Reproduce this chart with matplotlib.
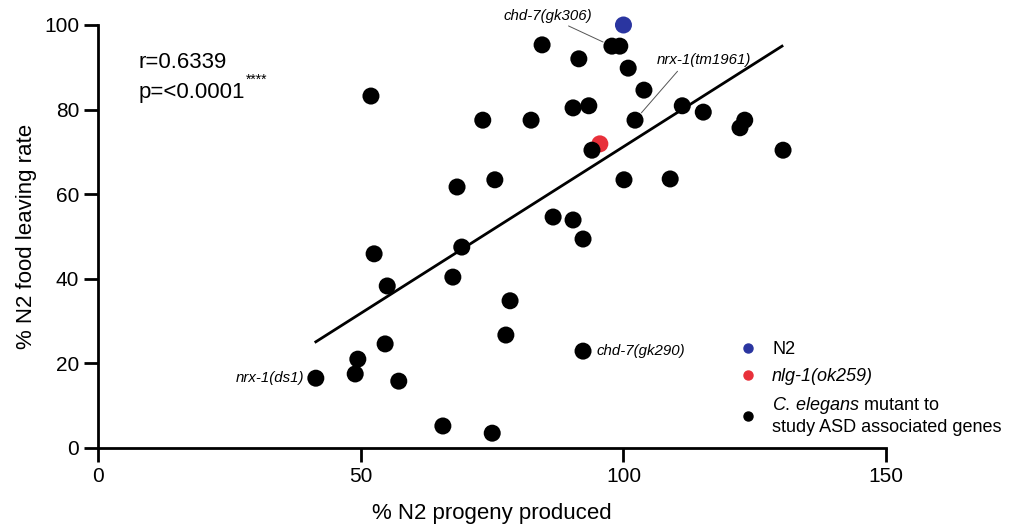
import numpy as np
import matplotlib
matplotlib.use('Agg')
from matplotlib import pyplot as plt
from matplotlib.lines import Line2D

plt.rcParams['font.family'] = ['Liberation Sans', 'DejaVu Sans']
plt.rcParams['mathtext.fontset'] = 'custom'
plt.rcParams['mathtext.rm'] = 'Liberation Sans'
plt.rcParams['mathtext.it'] = 'Liberation Sans:italic'

# % N2 progeny produced, % N2 food leaving rate
mut_x = [84.5, 97.8, 99.3, 91.5, 100.9, 103.9, 51.9, 90.4, 93.4, 111.2,
         115.2, 123.1, 122.2, 73.2, 82.4, 102.2, 130.4, 94.0, 100.1, 108.9,
         75.5, 68.3, 86.6, 90.4, 92.3, 69.2, 52.5, 55.0, 67.5, 78.4,
         77.6, 54.6, 49.4, 48.9, 57.2, 41.4, 92.3, 65.6, 75.0]
mut_y = [95.3, 95.0, 95.0, 92.0, 89.8, 84.6, 83.2, 80.4, 80.9, 80.9,
         79.4, 77.5, 75.7, 77.5, 77.5, 77.5, 70.4, 70.4, 63.4, 63.6,
         63.4, 61.7, 54.6, 53.9, 49.4, 47.5, 45.9, 38.3, 40.4, 34.8,
         26.7, 24.6, 21.0, 17.5, 15.8, 16.5, 22.9, 5.2, 3.5]
n2_x, n2_y = [100.0], [100.0]
nlg_x, nlg_y = [95.5], [71.9]

# regression line ends
fit_x = [41.4, 130.2]
fit_y = [25.1, 95.0]

# labelled strains: (text, index in mutant arrays)
labels = [('chd-7(gk306)', 1), ('nrx-1(tm1961)', 15),
          ('chd-7(gk290)', 36), ('nrx-1(ds1)', 35)]

fig = plt.figure(figsize=(10.26, 5.25), dpi=100)
ax = fig.add_axes([0.096, 0.1467, 0.7675, 0.8057])

ax.plot(fit_x, fit_y, color='black', lw=2, zorder=2)
ax.scatter(mut_x, mut_y, s=150, color='black', edgecolors='none', zorder=3, clip_on=False)
ax.scatter(nlg_x, nlg_y, s=150, color='#e8303a', edgecolors='none', zorder=2, clip_on=False)
ax.scatter(n2_x, n2_y, s=150, color='#2a35a0', edgecolors='none', zorder=3, clip_on=False)

lead = dict(arrowstyle='-', color='#555555', lw=0.7, shrinkA=1, shrinkB=7)
fs_lab = 10.8
t, i = labels[0]
ax.annotate(t, (mut_x[i], mut_y[i]), xytext=(-46, 22), textcoords='offset points',
            fontsize=fs_lab, style='italic', ha='center', va='center',
            arrowprops=dict(lead, relpos=(0.65, 0)), annotation_clip=False)
t, i = labels[1]
ax.annotate(t, (mut_x[i], mut_y[i]), xytext=(16, 43), textcoords='offset points',
            fontsize=fs_lab, style='italic', ha='left', va='center',
            arrowprops=dict(lead, relpos=(0.25, 0)), annotation_clip=False)
t, i = labels[2]
ax.annotate(t, (mut_x[i], mut_y[i]), xytext=(10, 0), textcoords='offset points',
            fontsize=fs_lab, style='italic', ha='left', va='center')
t, i = labels[3]
ax.annotate(t, (mut_x[i], mut_y[i]), xytext=(-8, 0), textcoords='offset points',
            fontsize=fs_lab, style='italic', ha='right', va='center')

ax.text(0.051, 0.912, 'r=0.6339', transform=ax.transAxes, fontsize=16, va='center')
ax.text(0.051, 0.840, 'p=<0.0001', transform=ax.transAxes, fontsize=16, va='center')
ax.text(0.187, 0.870, '****', transform=ax.transAxes, fontsize=10, va='center')

ax.set_xlim(0, 150)
ax.set_ylim(0, 100)
ax.set_xticks([0, 50, 100, 150])
ax.set_yticks([0, 20, 40, 60, 80, 100])
for s in ['top', 'right']:
    ax.spines[s].set_visible(False)
for s in ['left', 'bottom']:
    ax.spines[s].set_linewidth(2)
ax.tick_params(width=2, length=10, labelsize=15, pad=4)
ax.set_xlabel('% N2 progeny produced', fontsize=16, labelpad=12)
ax.set_ylabel('% N2 food leaving rate', fontsize=16, labelpad=5)

handles = [Line2D([], [], ls='none', marker='o', ms=6.5, color='#2a35a0'),
           Line2D([], [], ls='none', marker='o', ms=6.5, color='#e8303a'),
           Line2D([], [], ls='none', marker='o', ms=6.5, color='black')]
names = ['N2', 'nlg-1(ok259)', r'$C.\,elegans$ mutant to' + '\nstudy ASD associated genes']
leg = fig.legend(handles, names, loc='upper left', bbox_to_anchor=(0.72, 0.35),
                 frameon=False, fontsize=13, handlelength=1, handletextpad=0.85,
                 labelspacing=0.55, borderpad=0, borderaxespad=0)
leg.get_texts()[1].set_style('italic')

fig.savefig('out.png', dpi=100)
